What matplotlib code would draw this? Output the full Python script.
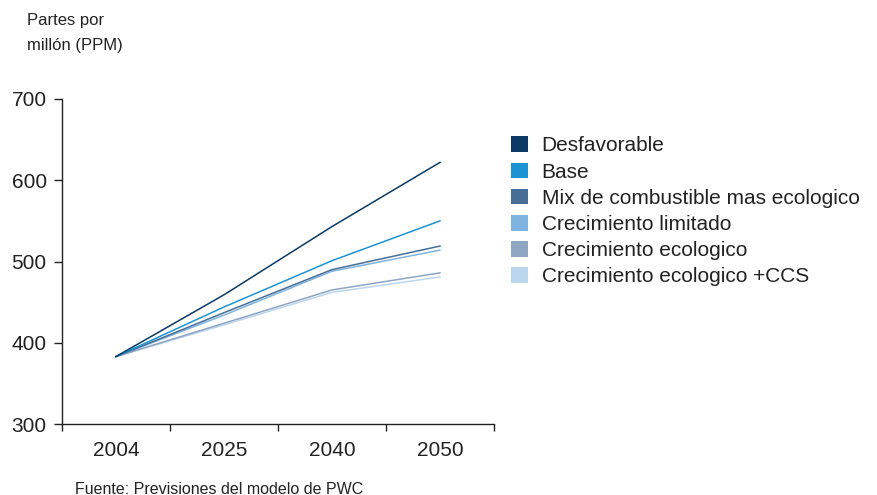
import matplotlib
matplotlib.use("Agg")
from matplotlib import pyplot as plt
from matplotlib.patches import Patch

plt.rcParams['font.family'] = ['Liberation Sans', 'DejaVu Sans']

# Escenarios de concentracion de CO2 (PPM)
years = ['2004', '2025', '2040', '2050']
desfavorable = [383, 459, 543, 622]
base = [383, 444, 501, 550]
mix = [383, 437, 490, 519]
limitado = [383, 434, 488, 514]
ecologico = [383, 424, 465, 486]
ccs = [383, 422, 462, 481]

names = ['Desfavorable', 'Base', 'Mix de combustible mas ecologico',
         'Crecimiento limitado', 'Crecimiento ecologico',
         'Crecimiento ecologico +CCS']
colors = ['#0b3a66', '#1c93d2', '#476e96', '#7fb4e0', '#8ea5c3', '#bcd6ee']
series = [desfavorable, base, mix, limitado, ecologico, ccs]

txt = '#222222'

fig = plt.figure(figsize=(8.78, 4.95), dpi=100)
ax = fig.add_axes([62/878, 1 - 424/495, (494 - 62)/878, (424 - 99)/495])

x = range(len(years))
# draw lightest first so darker lines sit on top
for vals, c in reversed(list(zip(series, colors))):
    ax.plot(x, vals, color=c, lw=1.1)

ax.set_ylim(300, 700)
ax.set_yticks([300, 400, 500, 600, 700])
ax.set_xlim(-0.5, 3.5)
ax.set_xticks([-0.5, 0.5, 1.5, 2.5, 3.5])
ax.set_xticklabels([])
ax.set_xticks(list(x), minor=True)
ax.set_xticklabels(years, minor=True)
ax.tick_params(axis='x', which='minor', length=0, pad=12, labelsize=15, labelcolor=txt)
ax.tick_params(axis='x', which='major', length=5, width=1, color=txt)
ax.tick_params(axis='y', length=6, width=1, color=txt, labelsize=15, labelcolor=txt, pad=5)

for s in ['top', 'right']:
    ax.spines[s].set_visible(False)
for s in ['left', 'bottom']:
    ax.spines[s].set_color(txt)
    ax.spines[s].set_linewidth(1)

fig.text(27/878, 1 - 33/495, 'Partes por\nmillón (PPM)', fontsize=12, color=txt,
         va='center', ha='left', linespacing=1.8)
fig.text(75/878, 1 - 489/495, 'Fuente: Previsiones del modelo de PWC', fontsize=11.5,
         color=txt, va='center', ha='left')

handles = [Patch(facecolor=c, edgecolor='none') for c in colors]
fig.legend(handles, names, loc='upper left', bbox_to_anchor=(503/878, 1 - 128/495),
           frameon=False, fontsize=15, labelcolor=txt, handlelength=0.78,
           handleheight=0.78, handletextpad=0.68, labelspacing=0.34, borderaxespad=0)

fig.savefig('out.png', dpi=100)
